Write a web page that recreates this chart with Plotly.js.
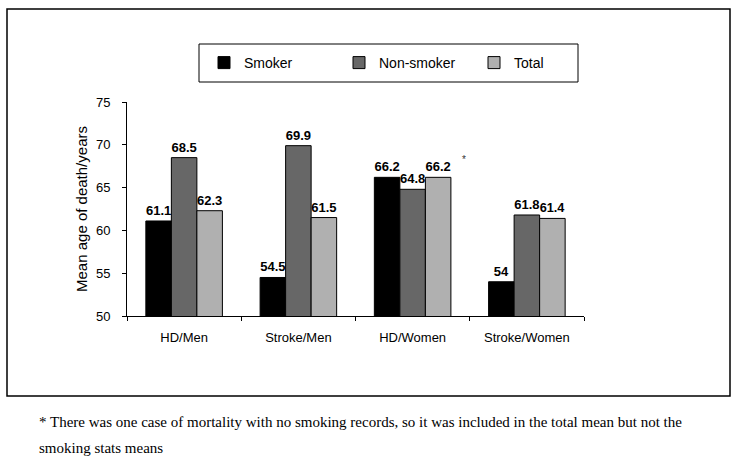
<!DOCTYPE html>
<html>
<head>
<meta charset="utf-8">
<script src="https://cdn.plot.ly/plotly-3.0.1.min.js"></script>
<style>html,body{margin:0;padding:0;background:#fff;}#chart{width:738px;height:464px;}</style>
</head>
<body>
<div id="chart"></div>
<script>
const categories = ["HD/Men", "Stroke/Men", "HD/Women", "Stroke/Women"];
const smoker = [61.1, 54.5, 66.2, 54];
const nonSmoker = [68.5, 69.9, 64.8, 61.8];
const total = [62.3, 61.5, 66.2, 61.4];
const seriesNames = ["Smoker", "Non-smoker", "Total"];
const yTicks = [50, 55, 60, 65, 70, 75];
const footnote1 = "* There was one case of mortality with no smoking records, so it was included in the total mean but not the";
const footnote2 = "smoking stats means";

const W = 738, H = 464;
const L = 127, R = 584, T = 102, B = 316;
const px = x => (x - L) / (R - L);
const py = y => (B - y) / (B - T);

const colors = ["#000000", "#676767", "#b0b0b0"];
const values = [smoker, nonSmoker, total];
const traces = values.map((v, i) => ({
  type: "bar",
  name: seriesNames[i],
  x: categories,
  y: v,
  marker: {color: colors[i], line: {color: "#000", width: 1}},
  text: v.map(String),
  textposition: "outside",
  cliponaxis: false,
  textfont: {family: "Liberation Sans, Arial, sans-serif", size: 13, color: "#000", weight: "bold"}
}));

const layout = {
  width: W, height: H,
  margin: {l: L, r: W - R, t: T, b: H - B},
  paper_bgcolor: "#fff", plot_bgcolor: "#fff",
  barmode: "group",
  bargap: 0.33,
  bargroupgap: 0,
  font: {family: "Liberation Sans, Arial, sans-serif", size: 13, color: "#000"},
  showlegend: true,
  legend: {
    orientation: "h",
    x: px(204), xanchor: "left",
    y: py(63), yanchor: "middle",
    entrywidthmode: "pixels", entrywidth: 90,
    bgcolor: "rgba(0,0,0,0)",
    font: {size: 14}
  },
  xaxis: {
    type: "category",
    showline: true, linecolor: "#000", linewidth: 1,
    ticks: "outside", ticklen: 4, tickcolor: "#000",
    tickson: "boundaries",
    ticklabelstandoff: 9,
    showgrid: false, zeroline: false,
    tickfont: {size: 13}
  },
  yaxis: {
    range: [50, 75],
    tickvals: yTicks,
    showline: true, linecolor: "#000", linewidth: 1,
    ticks: "outside", ticklen: 4, tickcolor: "#000",
    ticklabelstandoff: 9,
    showgrid: false, zeroline: false,
    tickfont: {size: 13},
    title: {text: "Mean age of death/years", font: {size: 15}, standoff: 4}
  },
  shapes: [
    {type: "rect", xref: "paper", yref: "paper", x0: px(7), x1: px(730), y0: py(396), y1: py(9),
     line: {color: "#000", width: 1.5}, fillcolor: "rgba(0,0,0,0)"},
    {type: "rect", xref: "paper", yref: "paper", x0: px(199), x1: px(578), y0: py(82), y1: py(44),
     line: {color: "#000", width: 1}, fillcolor: "rgba(0,0,0,0)"}
  ],
  annotations: [
    {xref: "paper", yref: "paper", x: px(468), y: py(152), text: "*", showarrow: false,
     font: {size: 10, color: "#333"}},
    {xref: "paper", yref: "paper", x: px(37), y: py(422), xanchor: "left", yanchor: "middle",
     text: footnote1, showarrow: false, font: {family: "Liberation Serif, Times New Roman, serif", size: 15}},
    {xref: "paper", yref: "paper", x: px(37), y: py(448), xanchor: "left", yanchor: "middle",
     text: footnote2, showarrow: false, font: {family: "Liberation Serif, Times New Roman, serif", size: 15}}
  ]
};

Plotly.newPlot("chart", traces, layout, {displayModeBar: false, staticPlot: true});
</script>
</body>
</html>
